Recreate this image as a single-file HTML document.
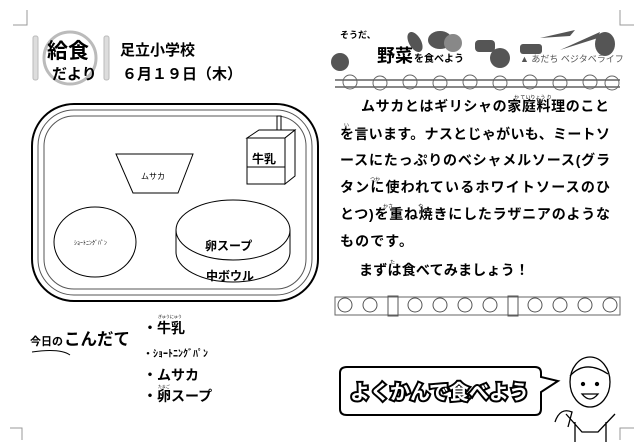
<!DOCTYPE html>
<html><head><meta charset="utf-8"><style>
body{margin:0;width:640px;height:448px;background:#fff;overflow:hidden}
svg{display:block}
text{font-family:"Liberation Sans","Noto Sans CJK JP",sans-serif;fill:#000}
.b{font-weight:bold}
</style></head><body>
<svg width="640" height="448" viewBox="0 0 640 448">
<path d="M27,10V25H13 M620,10V25H634 M22,440V428H10 M620,440V428H634" fill="none" stroke="#999" stroke-width="1"/>
<!-- logo -->
<circle cx="70" cy="58" r="26" fill="none" stroke="#bbb" stroke-width="3"/>
<rect x="33" y="36" width="5" height="44" rx="2" fill="#ddd" stroke="#bbb"/>
<rect x="104" y="36" width="5" height="44" rx="2" fill="#ddd" stroke="#bbb"/>
<text x="47" y="58" font-size="21" class="b">給食</text>
<text x="52" y="79" font-size="15" class="b">だより</text>
<text x="120" y="55" font-size="15" class="b">足立小学校</text>
<text x="122" y="79" font-size="15" class="b">６月１９日（木）</text>
<!-- tray -->
<rect x="32" y="104" width="286" height="197" rx="42" fill="none" stroke="#000" stroke-width="2"/>
<rect x="38" y="110" width="274" height="185" rx="36" fill="none" stroke="#555"/>
<rect x="44" y="116" width="262" height="173" rx="30" fill="none" stroke="#555"/>
<polygon points="116,154 193,154 178,193 133,193" fill="#fff" stroke="#000"/>
<text x="141" y="179" font-size="8">ムサカ</text>
<rect x="277" y="116" width="4" height="18" fill="#fff" stroke="#000"/>
<polygon points="247,138 259,130 295,130 285,138" fill="#fff" stroke="#000"/>
<polygon points="285,138 295,130 295,176 285,184" fill="#fff" stroke="#000"/>
<rect x="247" y="138" width="38" height="46" fill="#fff" stroke="#000"/>
<line x1="247" y1="167" x2="285" y2="167" stroke="#000"/>
<text x="252" y="163" font-size="12" class="b">牛乳</text>
<ellipse cx="95" cy="242" rx="41" ry="35" fill="#fff" stroke="#000"/>
<text x="74" y="245" font-size="6">ｼｮｰﾄﾆﾝｸﾞﾊﾟﾝ</text>
<path d="M176,230 V252 A57,30 0 0 0 290,252 V230" fill="#fff" stroke="#000"/>
<ellipse cx="233" cy="230" rx="57" ry="30" fill="#fff" stroke="#000"/>
<text x="205" y="250" font-size="12" class="b">卵スープ</text>
<text x="206" y="280" font-size="12" class="b">中ボウル</text>
<!-- veg header -->
<g fill="#555">
<circle cx="340" cy="62" r="9"/><ellipse cx="440" cy="40" rx="12" ry="9"/><circle cx="453" cy="43" r="9" fill="#888"/>
<ellipse cx="415" cy="42" rx="6" ry="11" transform="rotate(-30 415 42)"/><rect x="475" y="40" width="20" height="12" rx="4"/>
<rect x="520" y="44" width="22" height="10" rx="3"/><ellipse cx="605" cy="44" rx="10" ry="12"/><ellipse cx="500" cy="58" rx="10" ry="10"/>
<path d="M540,38 L575,30 L570,36 Z"/><path d="M560,50 L600,32 L598,38 Z"/>
</g>
<text x="340" y="38" font-size="9" class="b">そうだ、</text>
<text x="377" y="62" font-size="18" class="b">野菜</text><text x="414" y="62" font-size="10" class="b">を食べよう</text>
<text x="520" y="62" font-size="9" style="fill:#555">▲ あだち ベジタベライフ</text>
<path d="M335,80 H620 M335,87 H620" stroke="#888" stroke-width="2"/>
<g fill="none" stroke="#666"><circle cx="350" cy="82" r="7"/><circle cx="380" cy="83" r="7"/><circle cx="410" cy="82" r="7"/><circle cx="440" cy="83" r="7"/><circle cx="470" cy="82" r="7"/><circle cx="500" cy="83" r="7"/><circle cx="530" cy="82" r="7"/><circle cx="560" cy="83" r="7"/><circle cx="590" cy="82" r="7"/><circle cx="612" cy="83" r="7"/></g>
<!-- body text -->
<g font-size="14" class="b">
<text x="361" y="111" textLength="248" lengthAdjust="spacing">ムサカとはギリシャの家庭料理のこと</text>
<text x="340" y="139" textLength="270" lengthAdjust="spacing">を言います。ナスとじゃがいも、ミートソ</text>
<text x="340" y="165" textLength="270" lengthAdjust="spacing">ースにたっぷりのベシャメルソース(グラ</text>
<text x="340" y="192" textLength="270" lengthAdjust="spacing">タンに使われているホワイトソースのひ</text>
<text x="340" y="219" textLength="270" lengthAdjust="spacing">とつ)を重ね焼きにしたラザニアのような</text>
<text x="340" y="246" textLength="73" lengthAdjust="spacing">ものです。</text>
<text x="359" y="275" textLength="170" lengthAdjust="spacing">まずは食べてみましょう！</text>
</g>
<g font-size="5"><text x="514" y="99">か ていりょう り</text><text x="344" y="127">い</text><text x="370" y="181">つか</text><text x="383" y="208">かさ</text><text x="418" y="208">や</text><text x="390" y="264">た</text></g>
<!-- border band -->
<rect x="335" y="297" width="285" height="18" fill="none" stroke="#666"/>
<g fill="none" stroke="#555"><circle cx="345" cy="305" r="7"/><circle cx="370" cy="305" r="7"/><rect x="388" y="296" width="10" height="20"/><circle cx="415" cy="305" r="7"/><circle cx="440" cy="305" r="7"/><circle cx="465" cy="305" r="7"/><circle cx="490" cy="305" r="7"/><rect x="508" y="296" width="10" height="20"/><circle cx="535" cy="305" r="7"/><circle cx="560" cy="305" r="7"/><circle cx="585" cy="305" r="7"/><circle cx="610" cy="305" r="7"/></g>
<!-- menu -->
<text x="30" y="345" font-size="11" class="b">今日の</text><text x="64" y="345" font-size="17" class="b" textLength="66" lengthAdjust="spacingAndGlyphs">こんだて</text>
<path d="M32,352 Q60,348 70,355" fill="none" stroke="#000"/>
<g font-size="14" class="b">
<text x="143" y="333">・牛乳</text>
<text x="143" y="357" font-size="10">・ｼｮｰﾄﾆﾝｸﾞﾊﾟﾝ</text>
<text x="143" y="380">・ムサカ</text>
<text x="143" y="401">・卵スープ</text>
</g>
<text x="158" y="318" font-size="4">ぎゅうにゅう</text><text x="158" y="388" font-size="4">たまご</text>
<!-- bubble -->
<path d="M347,367 H535 Q541,367 541,373 V377 L558,381 L541,392 V409 Q541,415 535,415 H347 Q340,415 340,409 V373 Q340,367 347,367Z" fill="#fff" stroke="#000" stroke-width="2"/>
<text x="350" y="399" font-size="20" class="b" style="fill:#fff;stroke:#000;stroke-width:4px;paint-order:stroke">よくかんで食べよう</text>
<!-- person -->
<g fill="none" stroke="#000" stroke-width="1.3">
<ellipse cx="590" cy="382" rx="20" ry="25"/>
<path d="M570,376 Q585,359 608,374"/>
<circle cx="583" cy="384" r="1.5" fill="#000"/><circle cx="597" cy="384" r="1.5" fill="#000"/>
<path d="M582,394 Q590,404 598,394 Z"/>
<path d="M566,414 L582,432 L598,432 L615,414 M575,442 V422 M606,442 V422"/>
<path d="M555,422 Q560,407 572,412 L568,427"/>
</g>
</svg>
</body></html>
